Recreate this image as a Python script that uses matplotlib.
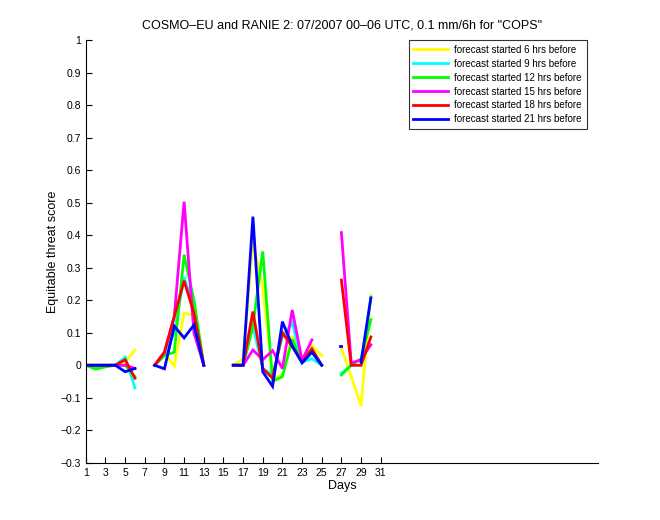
import numpy as np
import matplotlib
matplotlib.use("Agg")
import matplotlib.pyplot as plt

nan = np.nan
days = list(range(1, 32))

# values per day 1..31 (nan = no data)
h6 = [0.0, 0.0, 0.0, 0.0, 0.01, 0.047, nan, 0.0, 0.038, -0.002, 0.16, 0.155, 0.0, nan, nan,
      0.0, 0.02, 0.38, 0.24, -0.04, -0.03, 0.09, 0.02, 0.06, 0.03, nan, 0.053, -0.035, -0.125, 0.215, nan]
h9 = [0.0, -0.005, 0.0, 0.0, 0.025, -0.07, nan, 0.0, 0.03, 0.1, 0.27, 0.18, 0.0, nan, nan,
      0.0, 0.0, 0.12, -0.01, -0.03, 0.088, 0.13, 0.01, 0.02, 0.0, nan, -0.025, 0.0, 0.0, 0.21, nan]
h12 = [0.0, -0.012, -0.005, 0.0, 0.0, -0.035, nan, 0.0, 0.03, 0.04, 0.34, 0.2, 0.0, nan, nan,
       0.0, 0.0, 0.12, 0.35, -0.05, -0.035, 0.08, 0.01, 0.05, 0.0, nan, -0.03, 0.0, 0.02, 0.14, nan]
h15 = [0.0, 0.0, 0.0, 0.0, 0.0, -0.01, nan, 0.0, 0.04, 0.15, 0.503, 0.1, 0.0, nan, nan,
       0.0, 0.0, 0.047, 0.017, 0.045, -0.01, 0.17, 0.015, 0.078, nan, nan, 0.408, 0.007, 0.017, 0.063, nan]
h18 = [0.0, 0.0, 0.0, 0.0, 0.017, -0.04, nan, 0.0, 0.04, 0.15, 0.26, 0.16, 0.0, nan, nan,
       0.0, 0.0, 0.165, -0.01, -0.04, 0.1, 0.057, 0.01, 0.05, 0.0, nan, 0.262, 0.0, 0.0, 0.087, nan]
h21 = [0.0, 0.0, 0.0, 0.0, -0.02, -0.01, nan, 0.0, -0.011, 0.12, 0.084, 0.124, 0.0, nan, nan,
       0.0, 0.0, 0.457, -0.02, -0.065, 0.134, 0.06, 0.007, 0.04, 0.0, nan, 0.06, nan, 0.01, 0.207, nan]

series = [
    ("forecast started 6 hrs before", h6, (1, 1, 0)),
    ("forecast started 9 hrs before", h9, (0, 1, 1)),
    ("forecast started 12 hrs before", h12, (0, 1, 0)),
    ("forecast started 15 hrs before", h15, (1, 0, 1)),
    ("forecast started 18 hrs before", h18, (1, 0, 0)),
    ("forecast started 21 hrs before", h21, (0, 0, 1)),
]

plt.rcParams['font.family'] = ['Liberation Sans', 'DejaVu Sans']
plt.rcParams['font.size'] = 8

fig = plt.figure(figsize=(6.6, 5.2), dpi=100)
ax = fig.add_axes([0.130, 0.110, 0.776, 0.813])

for label, vals, col in series:
    ax.plot(days, vals, color=col, lw=2.0, label=label, solid_joinstyle='miter')

# isolated blue point at day 27 (neighbours missing)
ax.plot([26.85, 27.0], [h21[26], h21[26]], color=(0, 0, 1), lw=2.0)

ax.set_xlim(1, 53.1)
ax.set_ylim(-0.3, 1.0)
ax.set_xticks(range(1, 32, 2))
yt = np.round(np.arange(-0.3, 1.01, 0.1), 1)
ax.set_yticks(yt)
ax.set_yticklabels([("\u22120" + f"{abs(v):.1f}"[1:]) if v < 0 else ("0" if v == 0 else ("1" if v == 1 else f"{v:.1f}")) for v in yt])
ax.tick_params(direction='in', length=4, width=0.8, labelsize=7.5)
for s in ['top', 'right']:
    ax.spines[s].set_visible(False)
for s in ['left', 'bottom']:
    ax.spines[s].set_linewidth(0.8)

ax.set_xlabel("Days", fontsize=9, labelpad=2)
ax.set_ylabel("Equitable threat score", fontsize=9, labelpad=1)
ax.set_title('COSMO\u2013EU and RANIE 2: 07/2007 00\u201306 UTC, 0.1 mm/6h for "COPS"', fontsize=9, pad=8)

leg = ax.legend(loc='upper right', bbox_to_anchor=(0.978, 1.0), borderaxespad=0, fontsize=7, frameon=True,
                fancybox=False, edgecolor='black', handlelength=3.6, borderpad=0.5, labelspacing=0.4,
                handletextpad=0.6)
leg.get_frame().set_linewidth(0.8)

fig.savefig("out.png", dpi=100)
